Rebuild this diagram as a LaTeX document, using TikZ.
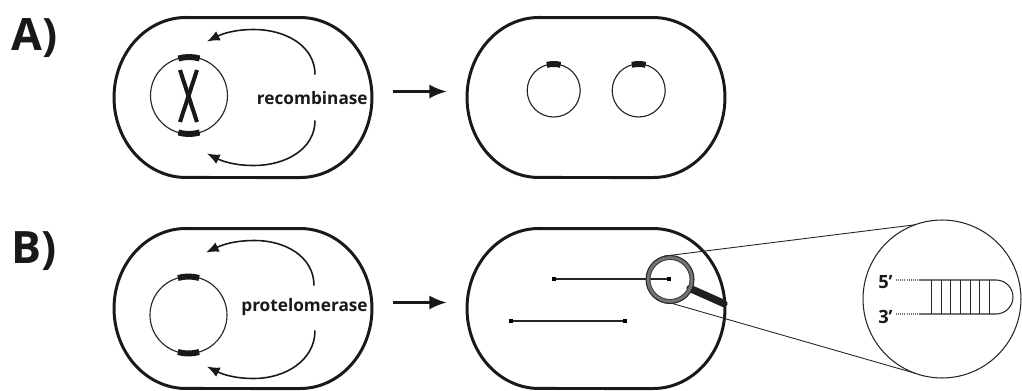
\documentclass[tikz,border=0pt]{standalone}
\usepackage{fontspec}
\newfontfamily\figfont{Open Sans}
\usetikzlibrary{arrows.meta,calc}

% outline of a cell: straight top and bottom, elliptical ends
\newcommand\drawcell[1]{%
  \draw[cellline] ($(#1.north west)+(72,0)$) -- ($(#1.north east)+(-72,0)$)
    arc[start angle=90, end angle=-90, x radius=72, y radius=80]
    -- ($(#1.south west)+(72,0)$)
    arc[start angle=270, end angle=90, x radius=72, y radius=80] -- cycle;}

\begin{document}
\begin{tikzpicture}[x=0.02cm, y=0.02cm,
  cellbox/.style={draw=none, rectangle, minimum width=5.16cm, minimum height=3.2cm,
    inner sep=0pt, outer sep=0pt},
  cellline/.style={line width=1.7pt, black!90},
  plasmid/.style={line width=0.65pt, black!85},
  site/.style={line width=3.4pt, black!90},
  crossing/.style={line width=2.3pt, black!90},
  enzymearrow/.style={line width=0.9pt, black!90, -{Latex[length=7.2pt,width=5.8pt]}},
  steparrow/.style={line width=1.8pt, black!90, -{Latex[length=10pt,width=8pt]}},
  enzyme/.style={font=\figfont\bfseries\fontsize{9.8}{12}\selectfont, text=black!90,
    inner sep=0pt, anchor=base east},
  panel/.style={font=\figfont\bfseries\fontsize{25.4}{30}\selectfont, text=black!90,
    inner sep=0pt, anchor=base west},
  endlabel/.style={font=\figfont\bfseries\fontsize{10.4}{12}\selectfont, text=black!90,
    inner sep=0pt, anchor=base east},
  telomere/.style={rectangle, fill=black, minimum size=0.08cm, inner sep=0pt, outer sep=0pt},
  linear/.style={line width=0.7pt, black!85},
  strand/.style={line width=0.6pt, black!85},
  overhang/.style={line width=0.6pt, black!55, dash pattern=on 0.6pt off 0.6pt},
  guide/.style={line width=0.5pt, black!85},
]
\useasboundingbox (0,0) rectangle (1022,390);

% ---------- cells ----------
\node[cellbox] (A1) at (243,292.5) {};
\node[cellbox] (A2) at (596,292.5) {};
\node[cellbox] (B1) at (243,81.5) {};
\node[cellbox] (B2) at (596,81.5) {};
\drawcell{A1}
\drawcell{A2}
\drawcell{B1}
\drawcell{B2}

% ---------- panel labels ----------
\node[panel] (pa) at (11,340) {A)};
\node[panel] (pb) at (11,127) {B)};

% ---------- A: recombinase ----------
\draw[plasmid] (189,294.5) circle[radius=38.5];
\draw[site] (189,294.5) ++(74:38.5) arc[start angle=74, end angle=106, radius=38.5];
\draw[site] (189,294.5) ++(254:38.5) arc[start angle=254, end angle=286, radius=38.5];
\draw[crossing] (180,320) -- (197,268);
\draw[crossing] (197,320) -- (180,268);
\begin{scope}[shift={(A1.center)}]
  \draw[enzymearrow] (72,23) .. controls (72,52) and (42,68) .. (11,68)
    .. controls (-8,68) and (-20,64) .. (-36,56);
  \draw[enzymearrow] (72,-23) .. controls (72,-52) and (42,-68) .. (11,-68)
    .. controls (-8,-68) and (-20,-64) .. (-36,-56);
\end{scope}
\node[enzyme] (rec) at (368,286) {recombinase};
\draw[steparrow] ($(A1.east)+(21,6)$) -- ($(A2.west)+(-20,6)$);

% two separate circles after excision
\draw[plasmid] (553.7,299.5) circle[radius=26.5];
\draw[site] (553.7,299.5) ++(75:26.5) arc[start angle=75, end angle=105, radius=26.5];
\draw[plasmid] (638.7,299.5) circle[radius=26.5];
\draw[site] (638.7,299.5) ++(75:26.5) arc[start angle=75, end angle=105, radius=26.5];

% ---------- B: protelomerase ----------
\draw[plasmid] (188.5,75) circle[radius=38.5];
\draw[site] (188.5,75) ++(74:38.5) arc[start angle=74, end angle=106, radius=38.5];
\draw[site] (188.5,75) ++(254:38.5) arc[start angle=254, end angle=286, radius=38.5];
\begin{scope}[shift={(B1.center)}]
  \draw[enzymearrow] (71,23) .. controls (71,52) and (42,68) .. (12,68)
    .. controls (-8,68) and (-20,64) .. (-37,56);
  \draw[enzymearrow] (72,-22) .. controls (72,-52) and (42,-70) .. (11,-70)
    .. controls (-8,-70) and (-20,-66) .. (-36,-58);
\end{scope}
\node[enzyme] (prot) at (368,79) {protelomerase};
\draw[steparrow] ($(B1.east)+(21,6)$) -- ($(B2.west)+(-20,6)$);

% linear molecules with hairpin ends
\node[telomere] (u1) at (554,111) {};
\node[telomere] (u2) at (669,111) {};
\node[telomere] (d1) at (511,69) {};
\node[telomere] (d2) at (625,69) {};
\draw[linear] (u1) -- (u2);
\draw[linear] (d1) -- (d2);

% magnifying glass
\node[circle, minimum size=0.96cm, inner sep=0pt, outer sep=0pt] (lens) at (670,110.5) {};
\draw[line width=4.2pt, black!88, line cap=round] ($(lens.center)+(-24:22)$) -- ($(lens.center)+(-24:59)$);
\draw[line width=2.4pt, black!55] (lens.center) circle[radius=22];
\draw[line width=0.6pt, black!85] (lens.center) circle[radius=24];
\draw[line width=0.5pt, black!75] (lens.center) circle[radius=20];

% enlarged view of the hairpin end
\node[circle, draw, line width=0.6pt, black!85, minimum size=3.16cm, inner sep=0pt, outer sep=0pt]
  (zoomview) at (942,91) {};
\draw[guide] (lens.102) -- (zoomview.110);
\draw[guide] (lens.-85) -- (zoomview.-110);

\draw[overhang] (896,110) -- (920,110);
\draw[overhang] (896,76) -- (920,76);
\draw[strand] (920,110) -- (996,110) arc[start angle=90, end angle=-90, radius=17] -- (920,76);
\foreach \k in {0,...,6}
  \draw[strand] ({931.7+9.6*\k},110) -- ({931.7+9.6*\k},76);
\node[endlabel] (five) at (893,102) {5’};
\node[endlabel] (three) at (893,67) {3’};
\end{tikzpicture}
\end{document}
